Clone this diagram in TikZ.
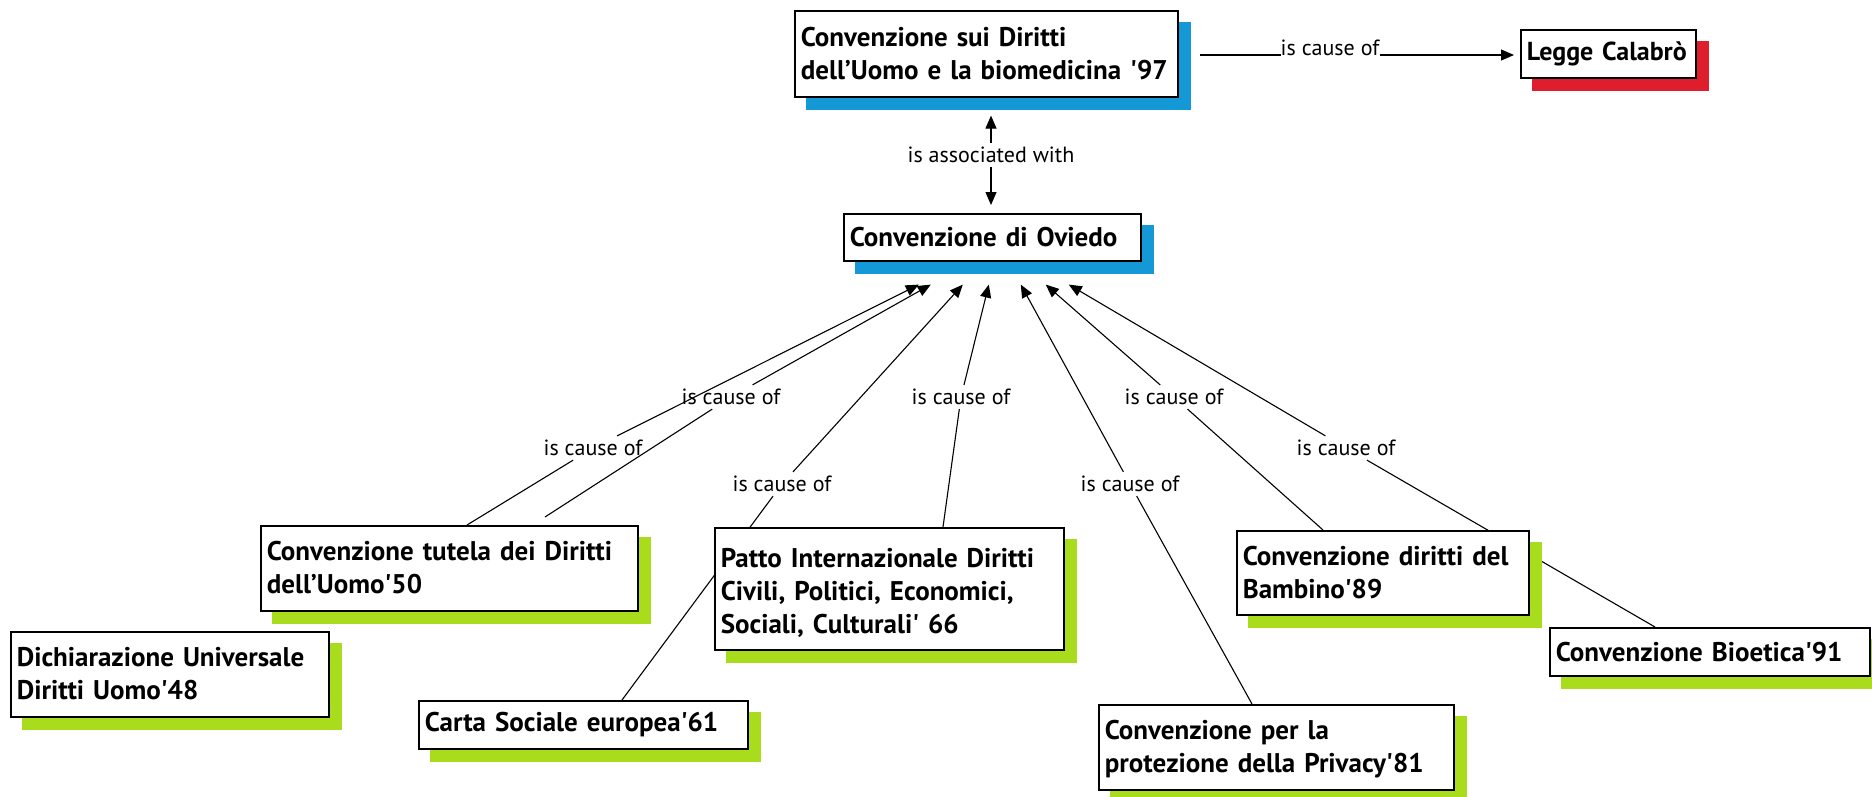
\documentclass[tikz,border=0pt]{standalone}
\usepackage{fontspec}
\setmainfont{PT Sans}
\usetikzlibrary{arrows.meta,calc}
\pgfdeclarelayer{bg}
\pgfdeclarelayer{shad}
\pgfsetlayers{bg,shad,main}
\definecolor{cblue}{RGB}{20,152,214}
\definecolor{cred}{RGB}{222,30,44}
\definecolor{cgreen}{RGB}{168,220,28}
\newcommand{\sq}{\textquotesingle}
\tikzset{
  concept/.style={draw=black, line width=1.6pt, fill=white, anchor=north west,
    align=left, inner xsep=6pt, inner ysep=0pt,
    font=\fontsize{27}{33}\selectfont\bfseries},
  twoline/.style={text depth=34pt},
  threeline/.style={text depth=62pt},
  lab/.style={font=\fontsize{22}{26}\selectfont, inner sep=4pt},
  conn/.style={line width=1.1pt, draw=black},
  arr/.style={conn, -{Triangle[width=11pt,length=13pt]}},
}
\newcommand{\cshadow}[2]{%
  \begin{pgfonlayer}{shad}
    \fill[#2] ($(#1.south west)+(12,12)$) rectangle ($(#1.north east)+(12,12)$);
  \end{pgfonlayer}}
\begin{document}
\begin{tikzpicture}[x=1pt,y=-1pt]
\useasboundingbox (0,0) rectangle (1872,796);
\begin{pgfonlayer}{bg}
  \fill[white] (0,0) rectangle (1872,796);
\end{pgfonlayer}
% concepts
\node[concept, twoline, minimum width=383pt, minimum height=86pt, text width=371pt] (top97) at (794,10)
  {Convenzione sui Diritti\\\mbox{dell’Uomo e la biomedicina \sq97}};
\node[concept, minimum width=175pt, minimum height=48pt, text width=163pt, font=\fontsize{26}{32}\selectfont\bfseries] (legge) at (1520,29)
  {Legge Calabrò};
\node[concept, minimum width=297pt, minimum height=47pt, text width=285pt] (oviedo) at (843,213)
  {Convenzione di Oviedo};
\node[concept, twoline, minimum width=377pt, minimum height=85pt, text width=365pt] (convtutela) at (260,525)
  {Convenzione tutela dei Diritti\\dell’Uomo\sq50};
\node[concept, twoline, minimum width=318pt, minimum height=85pt, text width=306pt] (dich) at (10,631)
  {\mbox{Dichiarazione Universale}\\Diritti Uomo\sq48};
\node[concept, threeline, minimum width=349pt, minimum height=122pt, text width=337pt] (patto) at (714,527)
  {\mbox{Patto Internazionale Diritti}\\\mbox{Civili, Politici, Economici,}\\Sociali, Culturali\sq{} 66};
\node[concept, minimum width=329pt, minimum height=48pt, text width=317pt] (carta) at (418,700)
  {Carta Sociale europea\sq61};
\node[concept, twoline, minimum width=355pt, minimum height=85pt, text width=343pt] (privacy) at (1098,704)
  {Convenzione per la\\\mbox{protezione della Privacy\sq81}};
\node[concept, twoline, minimum width=292pt, minimum height=84pt, text width=280pt] (bambino) at (1236,530)
  {\mbox{Convenzione diritti del}\\Bambino\sq89};
\node[concept, minimum width=320pt, minimum height=48pt, text width=308pt] (bioetica) at (1549,627)
  {Convenzione Bioetica\sq91};
% shadows
\cshadow{top97}{cblue}
\cshadow{oviedo}{cblue}
\cshadow{legge}{cred}
\cshadow{convtutela}{cgreen}
\cshadow{dich}{cgreen}
\cshadow{patto}{cgreen}
\cshadow{carta}{cgreen}
\cshadow{privacy}{cgreen}
\cshadow{bambino}{cgreen}
\cshadow{bioetica}{cgreen}
% linking phrases
\node[lab, anchor=base, inner sep=0pt] (ltop) at (1330,55) {is cause of};
\node[lab] (assoc) at (991,155) {is associated with};
\node[lab] (l1) at (593,448) {is cause of};
\node[lab] (l2) at (731,397) {is cause of};
\node[lab] (l3) at (782,484) {is cause of};
\node[lab] (l4) at (961,397) {is cause of};
\node[lab] (l5) at (1130,484) {is cause of};
\node[lab] (l6) at (1174,397) {is cause of};
\node[lab] (l7) at (1346,448) {is cause of};
% end points
\coordinate (a1) at ($(oviedo.south)+(-73.5,23)$);
\coordinate (a2) at ($(oviedo.south)+(-61.5,23)$);
\coordinate (a3) at ($(oviedo.south)+(-29.5,23)$);
\coordinate (a4) at ($(oviedo.south)+(-3.5,23)$);
\coordinate (a5) at ($(oviedo.south)+(28.5,23)$);
\coordinate (a6) at ($(oviedo.south)+(53.5,23)$);
\coordinate (a7) at ($(oviedo.south)+(76.5,23)$);
\coordinate (s1) at ($(convtutela.north west)+(207,0)$);
\coordinate (s2) at ($(convtutela.north west)+(285,-8)$);
\coordinate (s3) at ($(carta.north west)+(204,0)$);
\coordinate (s4) at ($(patto.north west)+(229,0)$);
\coordinate (s5) at ($(privacy.north west)+(154,0)$);
\coordinate (s6) at ($(bambino.north west)+(87,0)$);
\coordinate (s7) at ($(bioetica.north west)+(106,0)$);
% connectors
\begin{pgfonlayer}{bg}
  \draw[conn, shorten <=21pt] (top97.east |- ltop.base) -- (ltop.base west);
  \draw[arr, shorten >=6pt] (ltop.base east) -- (ltop.base -| legge.west);
  \draw[arr, shorten >=18pt] (assoc.north) -- (assoc.north |- top97.south);
  \draw[arr, shorten >=8pt] (assoc.south) -- (assoc.south |- oviedo.north);
  \draw[conn] (s1) -- (l1); \draw[arr] (l1) -- (a1);
  \draw[conn] (s2) -- (l2); \draw[arr] (l2) -- (a2);
  \draw[conn] (s3) -- (l3); \draw[arr] (l3) -- (a3);
  \draw[conn] (s4) -- (l4); \draw[arr] (l4) -- (a4);
  \draw[conn] (s5) -- (l5); \draw[arr] (l5) -- (a5);
  \draw[conn] (s6) -- (l6); \draw[arr] (l6) -- (a6);
  \draw[conn] (s7) -- (l7); \draw[arr] (l7) -- (a7);
\end{pgfonlayer}
\end{tikzpicture}
\end{document}
